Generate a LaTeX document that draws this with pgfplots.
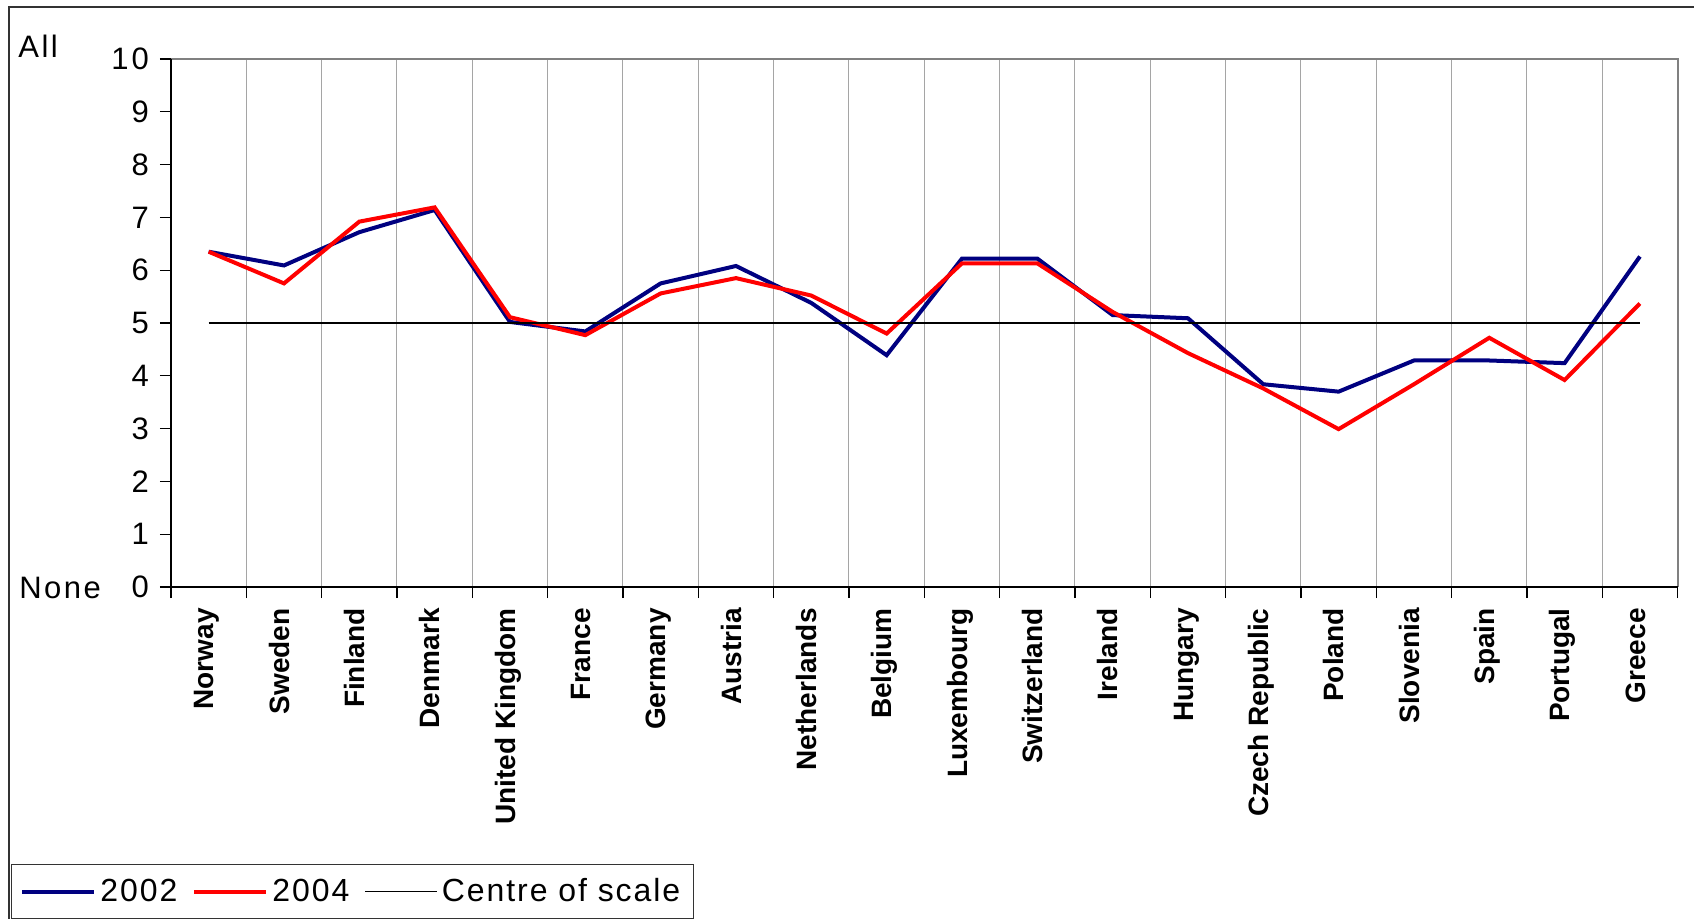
\documentclass[border=0pt]{standalone}
\usepackage{pgfplots}
\pgfplotsset{compat=1.18}
\usepackage{fontspec}
\setmainfont{Liberation Sans}
\definecolor{navyb}{RGB}{0,0,128}
\definecolor{gridg}{RGB}{165,165,165}
\definecolor{bordg}{RGB}{128,128,128}
\definecolor{frameg}{RGB}{50,50,50}
\begin{document}
\begin{tikzpicture}
\useasboundingbox (0,0) rectangle (847pt,459pt);
\draw[frameg, line width=0.8pt] (4.5pt,-10pt) rectangle (860pt,455.5pt);
\begin{axis}[
  at={(85.5pt,165.5pt)}, anchor=south west,
  scale only axis, width=753.3pt, height=264pt,
  xmin=-0.5, xmax=19.5, ymin=0, ymax=10,
  axis line style={draw=none},
  clip=false,
  tick align=outside,
  tick pos=left,
  major tick length=5.5pt,
  tick style={black, line width=0.6pt},
  ytick={0,1,...,10},
  /pgf/number format/assume math mode=true,
  yticklabel style={font=\addfontfeatures{LetterSpace=10}\fontsize{15.5}{18}\selectfont, xshift=-2pt},
  xtick={-0.5,0.5,...,19.5},
  xticklabel=\empty,
  xmajorgrids,
  major grid style={gridg, line width=0.5pt},
  extra x ticks={0,1,...,19},
  extra x tick labels={Norway,Sweden,Finland,Denmark,United Kingdom,France,Germany,Austria,Netherlands,Belgium,Luxembourg,Switzerland,Ireland,Hungary,Czech Republic,Poland,Slovenia,Spain,Portugal,Greece},
  extra x tick style={major tick length=0pt, grid=none,
    xticklabel style={yshift=-10.5pt, rotate=90, anchor=mid east, inner sep=0pt, font=\bfseries\fontsize{14}{16}\selectfont}},
  legend columns=3,
  legend image code/.code={\draw[#1] (0pt,0pt) -- (36pt,0pt);},
  legend style={at={(-0.1062,-0.5246)}, anchor=north west, draw=black!80, line width=0.5pt,
    font=\addfontfeatures{LetterSpace=6}\fontsize{16}{19}\selectfont,
    inner xsep=4.5pt, inner ysep=5pt,
    /tikz/every even column/.append style={column sep=5.5pt}},
]
\addplot[navyb, line width=2pt] coordinates {
(0,6.35) (1,6.09) (2,6.72) (3,7.14) (4,5.02) (5,4.84) (6,5.75) (7,6.08) (8,5.38) (9,4.39)
(10,6.22) (11,6.22) (12,5.15) (13,5.09) (14,3.84) (15,3.70) (16,4.29) (17,4.29) (18,4.24) (19,6.26)};
\addlegendentry{2002}
\addplot[red, line width=2pt] coordinates {
(0,6.35) (1,5.75) (2,6.92) (3,7.19) (4,5.11) (5,4.77) (6,5.56) (7,5.85) (8,5.52) (9,4.80)
(10,6.13) (11,6.13) (12,5.21) (13,4.43) (14,3.76) (15,2.99) (16,3.84) (17,4.72) (18,3.92) (19,5.37)};
\addlegendentry{2004}
\addplot[black, line width=0.8pt] coordinates {(0,5) (19,5)};
\addlegendentry{Centre of scale}
\draw[bordg, line width=1pt] (rel axis cs:0,1) -- (rel axis cs:1,1) -- (rel axis cs:1,0);
\draw[black, line width=0.75pt] (rel axis cs:0,1) -- (rel axis cs:0,0) -- (rel axis cs:1,0);
\end{axis}
\node[anchor=base west, inner sep=0pt, font=\addfontfeatures{LetterSpace=8}\fontsize{15.5}{18}\selectfont] at (9pt,430pt) {All};
\node[anchor=base west, inner sep=0pt, font=\addfontfeatures{LetterSpace=8}\fontsize{15.5}{18}\selectfont] at (9.5pt,160pt) {None};
\end{tikzpicture}
\end{document}
